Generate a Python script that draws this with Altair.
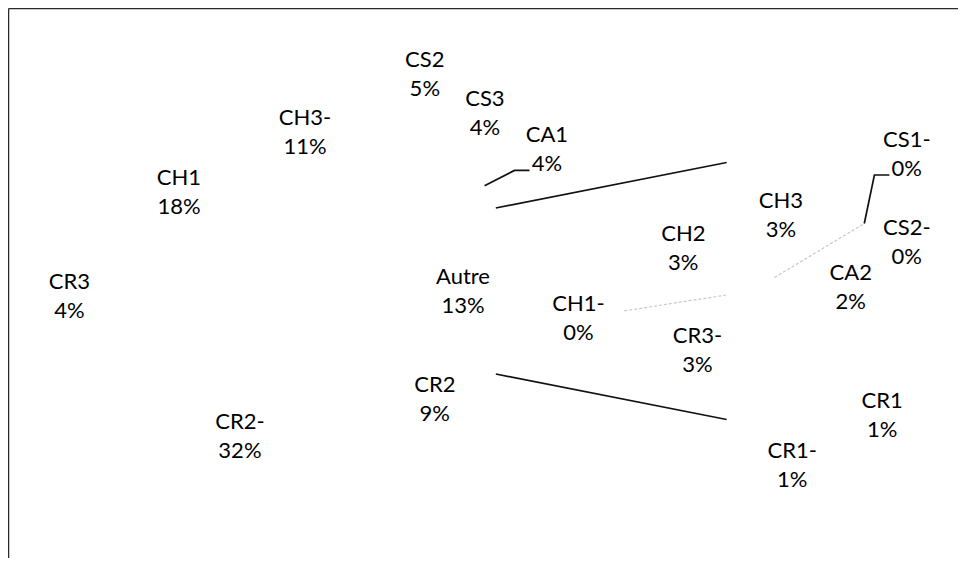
import math
import altair as alt
import pandas as pd

# ---------------- data ----------------
main_labels = ["Autre", "CR2", "CR2-", "CR3", "CH1", "CH3-", "CS2", "CS3", "CA1"]
main_values = [13.0, 9.1, 32.0, 4.0, 18.0, 11.0, 5.0, 4.1, 3.8]
sub_labels = ["CH3", "CS1-", "CS2-", "CA2", "CR1", "CR1-", "CR3-", "CH1-", "CH2"]
sub_values = [2.75, 0.0, 0.0, 2.1, 1.2, 1.2, 2.8, 0.0, 2.95]
split_label = "Autre"

# ---------------- layout / style ----------------
W, H = 950, 550
PAGE = 8
MAIN_CENTER = (304.0, 291.0)
MAIN_R = 209.0
SUB_CENTER = (752.0, 291.0)
SUB_R = 131.0
SUB_FIRST_ANGLE = 342.85          # clockwise from 12 o'clock
MAIN_GAP = 4                      # label distance outside the pie
SUB_GAP = 14
FONT = "Lato"
FS = 22
LH = 29
INSIDE_DEPTH = 50
FIT_HALF = 48
MIN_INSIDE_ARC = 70
PAD_X, PAD_Y = 20, 30
LEADER_MIN = 25
LINE_COLOR = "#111111"

total = sum(main_values)


def pct(v):
    return f"{int(math.floor(v / total * 100 + 0.5))}%"


EM = {"A": 0.68, "C": 0.69, "H": 0.75, "R": 0.64, "S": 0.53, "u": 0.56,
      "t": 0.36, "r": 0.38, "e": 0.53, "-": 0.39, "%": 0.82}


def tw(s):
    return sum(EM.get(ch, 0.58) for ch in s) * FS


def polar(c, r, a):
    t = math.radians(a)
    return (c[0] + r * math.sin(t), c[1] - r * math.cos(t))


def geometry(labels, values, first, pie_total):
    out, a = [], first
    for i, (l, v) in enumerate(zip(labels, values)):
        span = v / pie_total * 360.0
        out.append(dict(idx=i, label=l, value=v, start=a, end=a + span, mid=a + span / 2))
        a += span
    return out


split_i = main_labels.index(split_label)
main_first = 90.0 - (sum(main_values[:split_i]) + main_values[split_i] / 2) / total * 360.0
sub_total = sum(sub_values)
main_geo = geometry(main_labels, main_values, main_first, total)
sub_geo = geometry(sub_labels, sub_values, SUB_FIRST_ANGLE, sub_total)


def place(slices, center, R, gap):
    labs = []
    for s in slices:
        name, p = s["label"], pct(s["value"])
        hw = max(tw(name), tw(p)) / 2
        hh = LH
        th = math.radians(s["mid"])
        span = math.radians(s["end"] - s["start"])
        r_in = R - INSIDE_DEPTH
        inside = span * r_in >= MIN_INSIDE_ARC
        if inside:
            r_fit = FIT_HALF / math.sin(span / 2) if span < math.pi else 0
            x, y = polar(center, max(r_in, r_fit), s["mid"])
        else:
            sup = hw * abs(math.sin(th)) + hh * abs(math.cos(th))
            x, y = polar(center, R + gap + sup, s["mid"])
        labs.append(dict(name=name, pct=p, x=x, y=y, hw=hw, hh=hh, inside=inside,
                         value=s["value"], mid=s["mid"], anchor=polar(center, R, s["mid"])))
    outs = [l for l in labs if not l["inside"]]
    groups = {}
    for l in outs:
        groups.setdefault(round(l["mid"] % 360, 3), []).append(l)
    for g in groups.values():
        n = len(g)
        if n > 1:
            for k, l in enumerate(g):
                l["y"] += (k - (n - 1) / 2) * (2 * l["hh"] + PAD_Y)

    def overlap(a, b):
        return (abs(a["x"] - b["x"]) < a["hw"] + b["hw"] + PAD_X - 1e-6 and
                abs(a["y"] - b["y"]) < a["hh"] + b["hh"] + PAD_Y - 1e-6)

    for _ in range(10):
        moved = False
        for i in range(len(outs)):
            for j in range(i + 1, len(outs)):
                a, b = outs[i], outs[j]
                if overlap(a, b):
                    victim = b if b["value"] < a["value"] else a
                    other = a if victim is b else b
                    th = math.radians(victim["mid"])
                    steps = 0
                    while overlap(victim, other) and steps < 400:
                        victim["x"] += math.sin(th)
                        victim["y"] -= math.cos(th)
                        steps += 1
                    moved = True
        if not moved:
            break
    leaders = []
    for l in outs:
        ax_, ay_ = l["anchor"]
        dx = max(0.0, abs(ax_ - l["x"]) - l["hw"])
        dy = max(0.0, abs(ay_ - l["y"]) - 22)
        if math.hypot(dx, dy) > LEADER_MIN:
            side = 1 if l["x"] >= ax_ else -1
            xe = l["x"] - side * (tw(l["pct"]) / 2 + 2)
            ye = l["y"] + 21
            leaders.append([(ax_, ay_), (xe - side * 15, ye), (xe, ye)])
    return labs, leaders


main_labs, main_leaders = place(main_geo, MAIN_CENTER, MAIN_R, MAIN_GAP)
sub_labs, sub_leaders = place(sub_geo, SUB_CENTER, SUB_R, SUB_GAP)

label_df = pd.DataFrame([dict(x=l["x"], y=l["y"], name=l["name"], pct=l["pct"])
                         for l in main_labs + sub_labs])

# leader lines and the two connectors between the pies
line_rows = []
gid = 0
for pts in main_leaders + sub_leaders:
    for k, (x, y) in enumerate(pts):
        line_rows.append(dict(x=x, y=y, grp=gid, ord=k))
    gid += 1

split = main_geo[split_i]
for ang in (split["start"], split["end"]):
    px, py = polar(MAIN_CENTER, MAIN_R, ang)
    cx, cy = SUB_CENTER
    d = math.hypot(px - cx, py - cy)
    alpha = math.acos(SUB_R / d)
    phi = math.atan2(py - cy, px - cx)
    cands = [(cx + SUB_R * math.cos(phi + s * alpha), cy + SUB_R * math.sin(phi + s * alpha))
             for s in (1, -1)]
    tx, ty = min(cands, key=lambda c: c[1]) if py < cy else max(cands, key=lambda c: c[1])
    line_rows.append(dict(x=px, y=py, grp=gid, ord=0))
    line_rows.append(dict(x=tx, y=ty, grp=gid, ord=1))
    gid += 1
line_df = pd.DataFrame(line_rows)

# faint traces of the zero-width slices
zero_rows = []
seen = set()
for s in sub_geo:
    key = round(s["start"], 3)
    if s["value"] == 0 and key not in seen:
        seen.add(key)
        for k, r in enumerate((0.2 * SUB_R, SUB_R)):
            x, y = polar(SUB_CENTER, r, s["start"])
            zero_rows.append(dict(x=x, y=y, grp=len(seen), ord=k))
zero_df = pd.DataFrame(zero_rows)

main_df = pd.DataFrame(dict(label=main_labels, value=main_values, idx=range(len(main_labels)),
                            x=MAIN_CENTER[0], y=MAIN_CENTER[1]))
sub_df = pd.DataFrame(dict(label=sub_labels, value=sub_values, idx=range(len(sub_labels)),
                           x=SUB_CENTER[0], y=SUB_CENTER[1]))

# ---------------- chart ----------------
xs = alt.Scale(domain=[PAGE, PAGE + W], nice=False, zero=False)
ys = alt.Scale(domain=[PAGE, PAGE + H], nice=False, zero=False, reverse=True)
axis_style = dict(labels=False, ticks=False, grid=False, domainColor="#2a2a2a", domainWidth=1.5)


def X():
    return alt.X("x:Q", scale=xs, title=None, axis=alt.Axis(orient="top", **axis_style))


def Y():
    return alt.Y("y:Q", scale=ys, title=None, axis=alt.Axis(orient="left", **axis_style))


def pie_layer(df, first_deg, pie_total, R):
    a0 = math.radians(first_deg)
    return alt.Chart(df).mark_arc(radius=R, fill="white").encode(
        x=X(), y=Y(),
        theta=alt.Theta("value:Q", stack=True,
                        scale=alt.Scale(domain=[0, pie_total], range=[a0, a0 + 2 * math.pi])),
        order=alt.Order("idx:Q"),
    )


main_pie = pie_layer(main_df, main_first % 360, total, MAIN_R)
sub_pie = pie_layer(sub_df, SUB_FIRST_ANGLE, sub_total, SUB_R)

zero_lines = alt.Chart(zero_df).mark_line(color="#c8c8c8", strokeWidth=1.2, strokeDash=[3, 2]).encode(
    x=X(), y=Y(), detail="grp:N", order="ord:Q")
lines = alt.Chart(line_df).mark_line(color=LINE_COLOR, strokeWidth=1.7).encode(
    x=X(), y=Y(), detail="grp:N", order="ord:Q")
name_text = alt.Chart(label_df).mark_text(font=FONT, fontSize=FS, color="#000000", align="center",
                                          baseline="middle", dy=-LH / 2).encode(x=X(), y=Y(), text="name:N")
pct_text = alt.Chart(label_df).mark_text(font=FONT, fontSize=FS, color="#000000", align="center",
                                         baseline="middle", dy=LH / 2).encode(x=X(), y=Y(), text="pct:N")

chart = alt.layer(main_pie, sub_pie, zero_lines, lines, name_text, pct_text).resolve_scale(
    theta="independent"
).properties(width=W, height=H, padding=0, background="white").configure_view(stroke=None)

chart.save("out.html", embed_options={"renderer": "svg", "actions": False})
